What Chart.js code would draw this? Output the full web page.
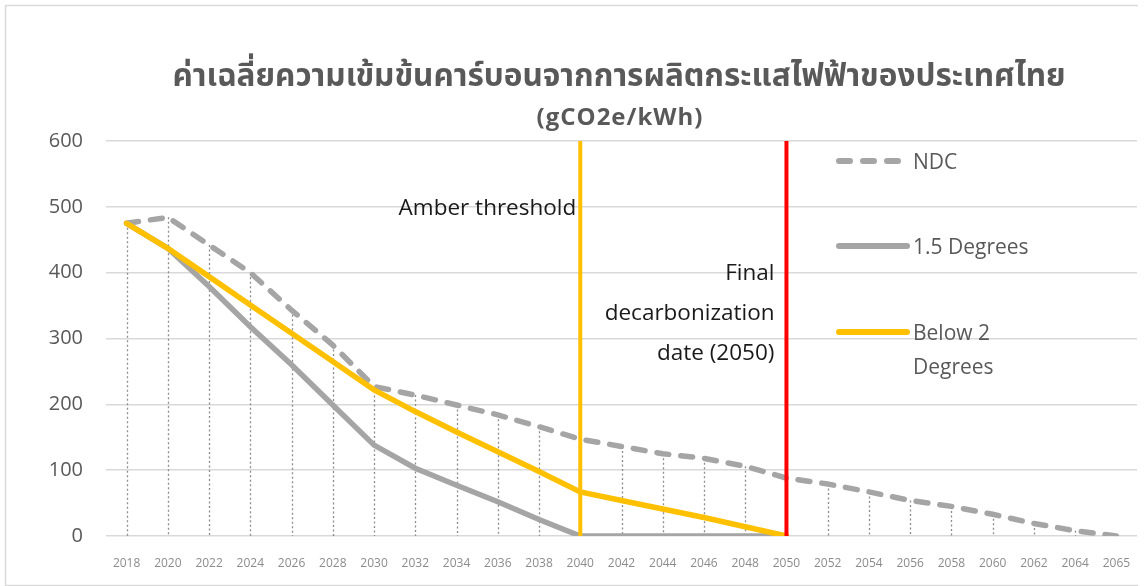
<!DOCTYPE html>
<html><head><meta charset="utf-8">
<script src="https://cdn.jsdelivr.net/npm/chart.js@4"></script>
<style>html,body{margin:0;padding:0;background:#fff}#wrap{width:1148px;height:586px;position:relative}</style>
</head><body><div id="wrap"><canvas id="c"></canvas></div>
<script>
// ---- data ----
const years = ['2018','2020','2022','2024','2026','2028','2030','2032','2034','2036','2038','2040','2042','2044','2046','2048','2050','2052','2054','2056','2058','2060','2062','2064','2065'];
const ndc = [475,484,442,400,343,290,227,214,199,184,166,147,136,125,118,106,88,79,67,54,45,33,19,8,0];
const deg15 = [475,437,379,318,260,199,138,103,77,52,25,0,0,0,0,0,0,null,null,null,null,null,null,null,null];
const below2 = [475,437,394,351,308,265,222,189,158,128,98,67,54,41,28,14,0,null,null,null,null,null,null,null,null];
const yTicks = [0,100,200,300,400,500,600];
const amberYear = '2040';
const finalYear = '2050';
const titleText = 'ค่าเฉลี่ยความเข้มข้นคาร์บอนจากการผลิตกระแสไฟฟ้าของประเทศไทย';
const subtitleText = '(gCO2e/kWh)';
const amberText = ['Amber threshold'];
const finalText = ['Final','decarbonization','date (2050)'];
const legendLabels = [['NDC'],['1.5 Degrees'],['Below 2','Degrees']];

const GRAY = '#A5A5A5', GOLD = '#FFC000', RED = '#FF0000';
const FONT = "'Open Sans', 'Noto Sans', sans-serif";
const THAI = "'Noto Sans Thai', 'Noto Sans Thai UI', 'Noto Sans', sans-serif";

const framePlugin = {
  id: 'frame',
  beforeDraw(chart) {
    const c = chart.ctx;
    c.save();
    c.fillStyle = '#fff';
    c.fillRect(0, 0, chart.width, chart.height);
    c.strokeStyle = '#d9d9d9';
    c.lineWidth = 1.5;
    c.beginPath();
    c.moveTo(1138, 5.5); c.lineTo(5.5, 5.5); c.lineTo(5.5, 585.5); c.lineTo(1138, 585.5);
    c.stroke();
    c.restore();
  }
};

const dropLinePlugin = {
  id: 'dropLines',
  beforeDatasetsDraw(chart) {
    const c = chart.ctx, xs = chart.scales.x, ys = chart.scales.y;
    c.save();
    c.strokeStyle = '#8c8c8c';
    c.lineWidth = 1.3;
    c.setLineDash([2, 2.5]);
    years.forEach((yr, i) => {
      const vals = [ndc[i], deg15[i], below2[i]].filter(v => v !== null);
      const m = Math.max(...vals);
      const x = Math.round(xs.getPixelForValue(i)) + 0.5;
      c.beginPath();
      c.moveTo(x, ys.getPixelForValue(m));
      c.lineTo(x, ys.getPixelForValue(0));
      c.stroke();
    });
    c.restore();
  }
};

const textPlugin = {
  id: 'texts',
  afterDraw(chart) {
    const c = chart.ctx, xs = chart.scales.x, ys = chart.scales.y;
    c.save();
    // titles
    c.fillStyle = '#595959';
    c.textAlign = 'center';
    c.textBaseline = 'alphabetic';
    c.font = "bold 31.5px " + THAI;
    c.fillText(titleText, 619, 86);
    c.font = "bold 24px " + FONT;
    if ('letterSpacing' in c) c.letterSpacing = '1px';
    c.fillText(subtitleText, 620, 125);
    if ('letterSpacing' in c) c.letterSpacing = '0px';
    // annotations
    c.fillStyle = '#1a1a1a';
    c.textAlign = 'right';
    c.font = "22.5px " + FONT;
    const ax = xs.getPixelForValue(years.indexOf(amberYear));
    amberText.forEach((t, k) => c.fillText(t, ax - 4, 215 + k * 40));
    const fx = xs.getPixelForValue(years.indexOf(finalYear));
    finalText.forEach((t, k) => c.fillText(t, fx - 12, 280 + k * 40));
    // legend
    const ds = chart.data.datasets;
    const rows = [161, 246, 332];
    c.textAlign = 'left';
    c.fillStyle = '#595959';
    c.font = "21px " + FONT;
    legendLabels.forEach((lines, k) => {
      const d = ds[k];
      const dashed = d.borderDash && d.borderDash.length;
      c.save();
      c.strokeStyle = d.borderColor;
      c.lineWidth = 6;
      c.lineCap = 'round';
      if (dashed) c.setLineDash([11, 13]);
      c.beginPath();
      c.moveTo(839, rows[k]); c.lineTo(dashed ? 900 : 907, rows[k]);
      c.stroke();
      c.restore();
      lines.forEach((t, j) => c.fillText(t, 913, rows[k] + 8 + j * 34));
    });
    c.restore();
  }
};

new Chart(document.getElementById('c'), {
  type: 'line',
  data: {
    labels: years,
    datasets: [
      { label: 'NDC', data: ndc, borderColor: GRAY, borderWidth: 5.5, borderDash: [12, 12], borderCapStyle: 'round', pointRadius: 0, order: 3 },
      { label: '1.5 Degrees', data: deg15, borderColor: GRAY, borderWidth: 5.5, borderCapStyle: 'round', pointRadius: 0, order: 2 },
      { label: 'Below 2 Degrees', data: below2, borderColor: GOLD, borderWidth: 5.5, borderCapStyle: 'round', pointRadius: 0, order: 1 },
      { label: 'amber', data: [{x: amberYear, y: 0}, {x: amberYear, y: 600}], borderColor: GOLD, borderWidth: 4, pointRadius: 0, order: 0 },
      { label: 'final', data: [{x: finalYear, y: 0}, {x: finalYear, y: 600}], borderColor: RED, borderWidth: 4, pointRadius: 0, order: 0 }
    ]
  },
  options: {
    responsive: true,
    maintainAspectRatio: false,
    animation: false,
    events: [],
    layout: { padding: { left: 0, top: 141, right: 11, bottom: 0 } },
    plugins: { legend: { display: false }, tooltip: { enabled: false }, title: { display: false } },
    elements: { line: { tension: 0 } },
    scales: {
      x: {
        type: 'category',
        offset: true,
        grid: { display: false },
        border: { display: false },
        ticks: { color: '#8c8c8c', font: { size: 12, family: FONT }, padding: 12, maxRotation: 0, autoSkip: false },
        afterFit(s) { s.height = 50; }
      },
      y: {
        min: 0, max: 600,
        afterBuildTicks(s) { s.ticks = yTicks.map(v => ({ value: v })); },
        grid: { color: '#d9d9d9', lineWidth: 1.5, drawTicks: false },
        border: { display: false },
        ticks: { color: '#595959', font: { size: 20, family: FONT }, padding: 23 },
        afterFit(s) { s.width = 106; }
      }
    }
  },
  plugins: [framePlugin, dropLinePlugin, textPlugin]
});
</script></body></html>
